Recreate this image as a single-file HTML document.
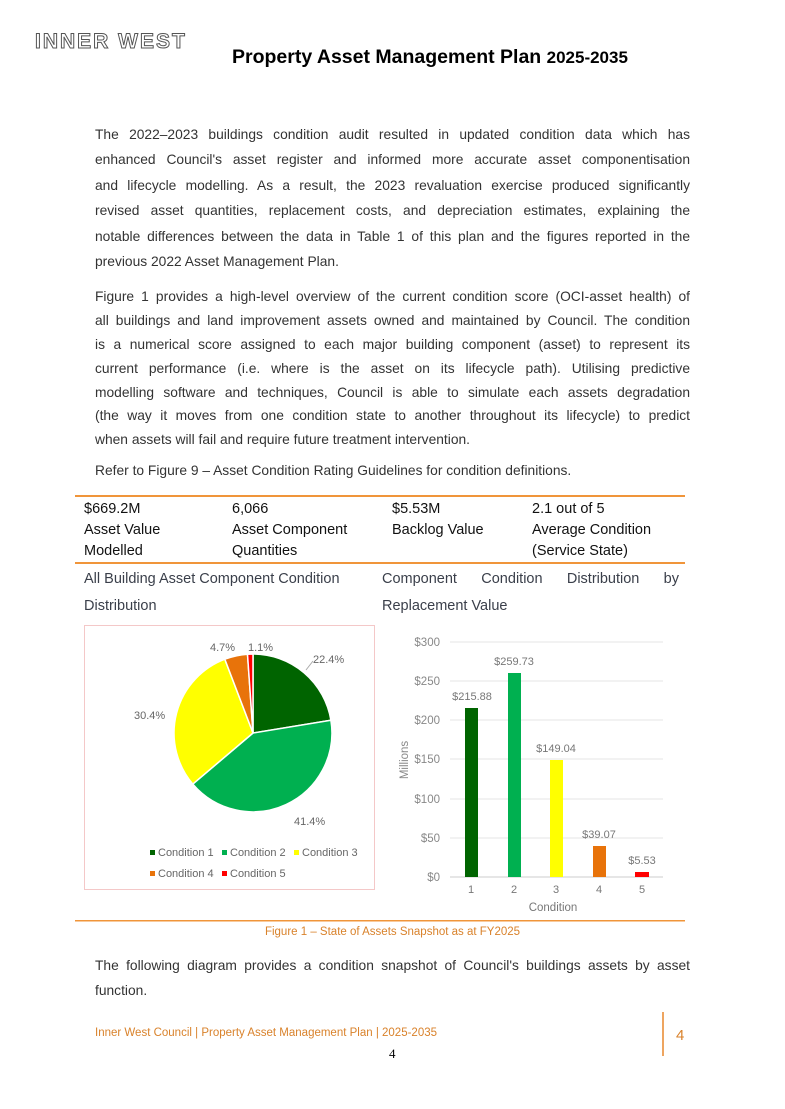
<!DOCTYPE html>
<html><head><meta charset="utf-8"><style>
body{margin:0;width:785px;height:1109px;background:#fff;position:relative;font-family:"Liberation Sans",sans-serif;overflow:hidden}
.a{position:absolute}
.p{position:absolute;left:95px;width:595px;font-size:13.8px;color:#333}
.p div{height:25.4px;line-height:25.4px;white-space:nowrap;text-align:justify;text-align-last:justify}
.p div.l{text-align-last:left}
.q div{height:23.9px;line-height:23.9px}
.b{font-size:14.5px;color:#111;line-height:21px}
.h{font-size:14.5px;color:#3a3f4a;line-height:27px}
</style></head><body>
<div class="a" style="left:35px;top:30px;font-size:21px;letter-spacing:2px;color:#fff;-webkit-text-stroke:1px #555;font-weight:bold">INNER WEST</div>
<div class="a" style="left:232px;top:46px;font-size:19.5px;font-weight:bold;color:#000">Property Asset Management Plan <span style="font-size:17px">2025-2035</span></div>
<div class="p" style="top:122px">
<div>The 2022–2023 buildings condition audit resulted in updated condition data which has</div>
<div>enhanced Council's asset register and informed more accurate asset componentisation</div>
<div>and lifecycle modelling. As a result, the 2023 revaluation exercise produced significantly</div>
<div>revised asset quantities, replacement costs, and depreciation estimates, explaining the</div>
<div>notable differences between the data in Table 1 of this plan and the figures reported in the</div>
<div class="l">previous 2022 Asset Management Plan.</div>
</div>
<div class="p q" style="top:285px">
<div>Figure 1 provides a high-level overview of the current condition score (OCI-asset health) of</div>
<div>all buildings and land improvement assets owned and maintained by Council. The condition</div>
<div>is a numerical score assigned to each major building component (asset) to represent its</div>
<div>current performance (i.e. where is the asset on its lifecycle path). Utilising predictive</div>
<div>modelling software and techniques, Council is able to simulate each assets degradation</div>
<div>(the way it moves from one condition state to another throughout its lifecycle) to predict</div>
<div class="l">when assets will fail and require future treatment intervention.</div>
</div>
<div class="p" style="top:458px"><div class="l">Refer to Figure 9 – Asset Condition Rating Guidelines for condition definitions.</div></div>
<div class="a" style="left:75px;top:495px;width:610px;height:2px;background:#f0953a"></div>
<div class="a" style="left:75px;top:562px;width:610px;height:2px;background:#f0953a"></div>
<div class="a b" style="left:84px;top:499px">$669.2M<br>Asset Value<br>Modelled</div>
<div class="a b" style="left:232px;top:499px">6,066<br>Asset Component<br>Quantities</div>
<div class="a b" style="left:392px;top:499px">$5.53M<br>Backlog Value</div>
<div class="a b" style="left:532px;top:499px">2.1 out of 5<br>Average Condition<br>(Service State)</div>
<div class="a h" style="left:84px;top:566px">All Building Asset Component Condition<br>Distribution</div>
<div class="a h" style="left:382px;top:566px;width:297px;text-align:justify;text-align-last:justify">Component Condition Distribution by</div>
<div class="a h" style="left:382px;top:593px">Replacement Value</div>
<svg class="a" style="left:0;top:0" width="785" height="1109" font-family="Liberation Sans, sans-serif">
<rect x="84.5" y="625.5" width="290" height="264" fill="none" stroke="#f4c8c8"/>
<g stroke="#fff" stroke-width="1.5">
<path d="M253,733 L253,654 A79,79 0 0 1 330.9,720.2 Z" fill="#006400"/>
<path d="M253,733 L330.9,720.2 A79,79 0 0 1 192.8,784.1 Z" fill="#00b050"/>
<path d="M253,733 L192.8,784.1 A79,79 0 0 1 224.8,659.2 Z" fill="#ffff00"/>
<path d="M253,733 L224.8,659.2 A79,79 0 0 1 247.5,654.2 Z" fill="#e8730a"/>
<path d="M253,733 L247.5,654.2 A79,79 0 0 1 253,654 Z" fill="#ff0000"/>
</g>
<line x1="306" y1="670" x2="313" y2="661" stroke="#aaa"/>
<g font-size="11" fill="#666">
<text x="313" y="663">22.4%</text><text x="294" y="825">41.4%</text>
<text x="134" y="719">30.4%</text><text x="210" y="651">4.7%</text><text x="248" y="651">1.1%</text>
<rect x="150" y="850" width="5" height="5" fill="#006400"/><text x="158" y="856">Condition 1</text>
<rect x="222" y="850" width="5" height="5" fill="#00b050"/><text x="230" y="856">Condition 2</text>
<rect x="294" y="850" width="5" height="5" fill="#ffff00"/><text x="302" y="856">Condition 3</text>
<rect x="150" y="871" width="5" height="5" fill="#e8730a"/><text x="158" y="877">Condition 4</text>
<rect x="222" y="871" width="5" height="5" fill="#ff0000"/><text x="230" y="877">Condition 5</text>
</g>
<g stroke="#e6e6e6">
<line x1="450" y1="642" x2="663" y2="642"/><line x1="450" y1="681" x2="663" y2="681"/><line x1="450" y1="720" x2="663" y2="720"/><line x1="450" y1="759" x2="663" y2="759"/><line x1="450" y1="799" x2="663" y2="799"/><line x1="450" y1="838" x2="663" y2="838"/><line x1="450" y1="877" x2="663" y2="877" stroke="#ccc"/>
</g>
<g font-size="11.5" fill="#888" text-anchor="end">
<text x="440" y="646">$300</text><text x="440" y="685">$250</text><text x="440" y="724">$200</text><text x="440" y="763">$150</text><text x="440" y="803">$100</text><text x="440" y="842">$50</text><text x="440" y="881">$0</text>
</g>
<text transform="translate(408,760) rotate(-90)" font-size="11.5" fill="#888" text-anchor="middle">Millions</text>
<rect x="465" y="708" width="13" height="169" fill="#006400"/>
<rect x="508" y="673" width="13" height="204" fill="#00b050"/>
<rect x="550" y="760" width="13" height="117" fill="#ffff00"/>
<rect x="593" y="846" width="13" height="31" fill="#e8730a"/>
<rect x="635" y="872" width="14" height="5" fill="#ff0000"/>
<g font-size="11" fill="#777" text-anchor="middle">
<text x="472" y="700">$215.88</text><text x="514" y="665">$259.73</text><text x="556" y="752">$149.04</text><text x="599" y="838">$39.07</text><text x="642" y="864">$5.53</text>
<text x="471" y="893">1</text><text x="514" y="893">2</text><text x="556" y="893">3</text><text x="599" y="893">4</text><text x="642" y="893">5</text>
<text x="553" y="911" font-size="11.5">Condition</text>
</g>
<rect x="75" y="920" width="610" height="1.5" fill="#f0953a"/>
<line x1="663" y1="1012" x2="663" y2="1056" stroke="#e8872a" stroke-width="1.5"/>
</svg>
<div class="a" style="left:0;width:785px;top:926px;text-align:center;font-size:11.5px;color:#d9822b">Figure 1 – State of Assets Snapshot as at FY2025</div>
<div class="p" style="top:953px">
<div>The following diagram provides a condition snapshot of Council's buildings assets by asset</div>
<div class="l">function.</div>
</div>
<div class="a" style="left:95px;top:1027px;font-size:11.5px;color:#d9822b">Inner West Council | Property Asset Management Plan | 2025-2035</div>
<div class="a" style="left:676px;top:1027px;font-size:15px;color:#d9822b">4</div>
<div class="a" style="left:389px;top:1046px;font-size:13px;font-family:'Liberation Serif',serif;color:#000">4</div>
</body></html>
